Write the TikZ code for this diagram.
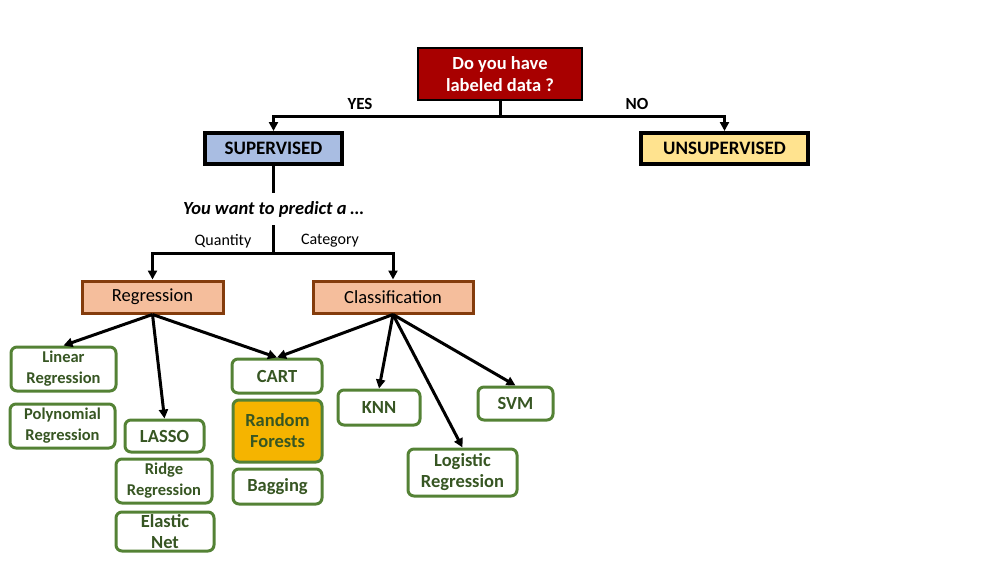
\documentclass[tikz,border=0pt]{standalone}
\usepackage{fontspec}
\setmainfont{Carlito}
\usetikzlibrary{arrows.meta}
\definecolor{qred}{RGB}{168,0,0}
\definecolor{supblue}{RGB}{169,189,226}
\definecolor{unsupyellow}{RGB}{255,227,143}
\definecolor{peach}{RGB}{245,190,156}
\definecolor{brownline}{RGB}{132,60,12}
\definecolor{greenline}{RGB}{84,130,53}
\definecolor{greentext}{RGB}{55,86,35}
\definecolor{forestfill}{RGB}{245,180,0}
\begin{document}
\begin{tikzpicture}[x=1pt,y=-1pt,
  question/.style={draw=black,line width=2.5pt,fill=qred,text=white,inner sep=0pt,
    align=center,font=\fontsize{18.5}{22}\selectfont\bfseries},
  learnbox/.style={draw=black,line width=4pt,inner sep=0pt,
    font=\fontsize{19}{22}\selectfont\bfseries},
  taskbox/.style={draw=brownline,line width=3pt,fill=peach,inner sep=0pt,
    font=\fontsize{18.5}{22}\selectfont},
  algo/.style={draw=greenline,line width=3pt,rounded corners=6pt,fill=white,
    text=greentext,inner sep=0pt,align=center,font=\fontsize{18.5}{21}\selectfont\bfseries},
  algosmall/.style={algo,font=\fontsize{16.5}{21}\selectfont\bfseries},
  branch/.style={font=\fontsize{17}{20}\selectfont\bfseries},
  choice/.style={font=\fontsize{16}{20}\selectfont},
  conn/.style={line width=3pt,black},
  arr/.style={conn,-{Triangle[length=9pt,width=9pt]}}
]
\useasboundingbox (0,0) rectangle (996,562);

% top question
\node[question,minimum width=164pt,minimum height=52pt] (q) at (500,74) {Do you have\\labeled data ?};
\node[learnbox,fill=supblue,minimum width=137pt,minimum height=31pt] (sup) at (273.5,148.5) {SUPERVISED};
\node[learnbox,fill=unsupyellow,minimum width=167pt,minimum height=31pt] (unsup) at (724.5,148.5) {UNSUPERVISED};
\coordinate (qj) at (500,116);
\draw[conn] (q.south) -- (qj);
\draw[arr] (qj) -| (sup.north);
\draw[arr] (qj) -| (unsup.north);
\node[branch] (yes) at (360,104) {YES};
\node[branch] (no) at (637,104) {NO};

% what to predict
\node[inner sep=0pt,minimum height=32pt,font=\fontsize{18.5}{20}\selectfont\bfseries\itshape] (pred) at (273.5,209) {You want to predict a …};
\draw[conn] (sup.south) -- (pred.north);
\coordinate (cj) at (273.5,253);
\draw[conn] (pred.south) -- (cj);
\node[taskbox,minimum width=141pt,minimum height=32pt] (reg) at (152.5,297) {Regression};
\node[taskbox,minimum width=160pt,minimum height=32pt] (cls) at (393,297) {Classification};
\draw[arr] (cj) -| (reg.north);
\draw[arr] (cj) -| (cls.north);
\node[choice] (quant) at (223,241) {Quantity};
\node[choice] (cat) at (330,241) {Category};

% algorithms
\node[algosmall,minimum width=105pt,minimum height=44pt] (lin) at (63.5,369) {Linear\\Regression};
\node[algosmall,minimum width=105pt,minimum height=44pt] (poly) at (62.5,426) {Polynomial\\Regression};
\node[algo,minimum width=79pt,minimum height=32pt] (lasso) at (164.5,436) {LASSO};
\node[algosmall,minimum width=96pt,minimum height=44pt] (ridge) at (164,481) {Ridge\\Regression};
\node[algo,minimum width=98pt,minimum height=39pt] (elastic) at (165,531.5) {Elastic\\Net};
\node[algo,minimum width=90pt,minimum height=34pt] (cart) at (277,376) {CART};
\node[algo,fill=forestfill,minimum width=89pt,minimum height=62pt] (rf) at (277.5,431) {Random\\Forests};
\node[algo,minimum width=89pt,minimum height=35pt] (bag) at (277.5,486.5) {Bagging};
\node[algo,minimum width=82pt,minimum height=35pt] (knn) at (379,407.5) {KNN};
\node[algo,minimum width=109pt,minimum height=47pt] (logit) at (462.5,472.5) {Logistic\\Regression};
\node[algo,minimum width=75pt,minimum height=33pt] (svm) at (515.5,403.5) {SVM};

\draw[arr] (reg.south) -- (lin.north);
\draw[arr] (reg.south) -- (lasso.north);
\draw[arr] (reg.south) -- (cart.north);
\draw[arr] (cls.south) -- (cart.north);
\draw[arr] (cls.south) -- (knn.north);
\draw[arr] (cls.south) -- (logit.north);
\draw[arr] (cls.south) -- (svm.north);
\end{tikzpicture}
\end{document}
